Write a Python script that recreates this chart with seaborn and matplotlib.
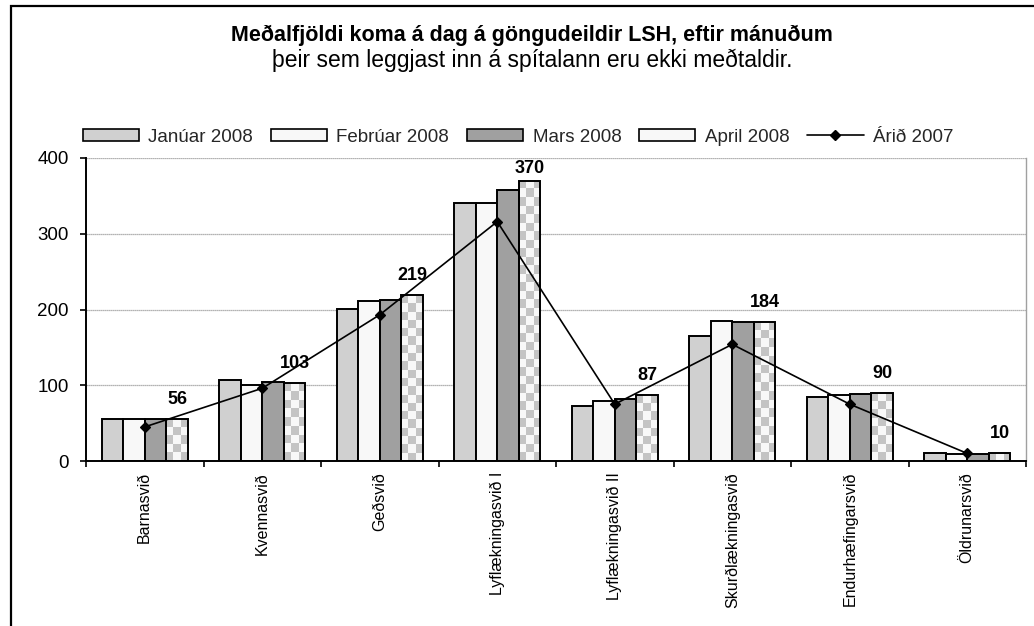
import numpy as np
import pandas as pd
import matplotlib
matplotlib.use("Agg")
import matplotlib.pyplot as plt
from matplotlib.patches import Patch, Rectangle
from matplotlib.lines import Line2D
from matplotlib.colors import ListedColormap
import seaborn as sns

# ---------------- data ----------------
categories = ["Barnasvið", "Kvennasvið", "Geðsvið", "Lyflækningasvið I",
              "Lyflækningasvið II", "Skurðlækningasvið", "Endurhæfingarsvið", "Öldrunarsvið"]
series_names = ["Janúar 2008", "Febrúar 2008", "Mars 2008", "April 2008"]
jan_2008 = [55, 107, 201, 340, 73, 165, 84, 11]
feb_2008 = [55, 100, 211, 341, 79, 185, 87, 9]
mar_2008 = [55, 104, 213, 358, 82, 183, 89, 9]
apr_2008 = [56, 103, 219, 370, 87, 184, 90, 10]
arid_2007 = [45, 96, 193, 316, 75, 154, 75, 10]
line_name = "Árið 2007"
y_ticks = [0, 100, 200, 300, 400]
title = "Meðalfjöldi koma á dag á göngudeildir LSH, eftir mánuðum"
subtitle = "þeir sem leggjast inn á spítalann eru ekki meðtaldir."

colors = ["#d0d0d0", "#f8f8f8", "#a0a0a0", "#f8f8f8"]

sns.set_theme(style="white")
plt.rcParams["font.family"] = ["Liberation Sans", "DejaVu Sans"]

df = pd.DataFrame({
    "svid": categories * 4,
    "month": np.repeat(series_names, len(categories)),
    "value": jan_2008 + feb_2008 + mar_2008 + apr_2008,
})

fig = plt.figure(figsize=(10.34, 6.26), dpi=100)
ax = fig.add_axes([86 / 1034, 1 - 461 / 626, 940 / 1034, 303 / 626])

sns.barplot(data=df, x="svid", y="value", hue="month", hue_order=series_names,
            order=categories, palette=colors, saturation=1, edgecolor="black",
            linewidth=1.4, width=0.735, legend=False, ax=ax)

sns.pointplot(x=categories, y=arid_2007, order=categories, color="black",
              markers="D", markersize=5.5, linewidth=1.2, errorbar=None, ax=ax)

ax.set_xlim(-0.5, len(categories) - 0.5)
ax.set_ylim(0, 400)
fig.canvas.draw()

# checkered pattern for April bars
checker_cmap = ListedColormap(["#c4c4c4", "#f8f8f8"])
apr_container = ax.containers[3]
for patch in apr_container.patches:
    x0 = patch.get_x()
    x1 = x0 + patch.get_width()
    h = patch.get_height()
    p0 = ax.transData.transform((x0, 0))
    p1 = ax.transData.transform((x1, h))
    ny = max(1, int(round(abs(p1[1] - p0[1]) / 8.5)))
    nx = 3
    arr = np.indices((ny, nx)).sum(axis=0) % 2
    im = ax.imshow(arr, extent=[x0, x1, 0, h], cmap=checker_cmap, aspect="auto",
                   interpolation="nearest", origin="upper",
                   zorder=patch.get_zorder() - 0.01)
    im.set_clip_path(patch)
    patch.set_facecolor("none")

ax.set_xlim(-0.5, len(categories) - 0.5)
ax.set_ylim(0, 400)

# data labels above April bars
fig.canvas.draw()
for patch, v in zip(apr_container.patches, apr_2008):
    cx = patch.get_x() + patch.get_width() / 2
    top_px = ax.transData.transform((cx, v))[1]
    lim_px = ax.transData.transform((cx, 400))[1]
    room_pt = (lim_px - top_px) * 72 / fig.dpi
    off = min(14, room_pt * 0.55)
    ax.annotate(str(v), xy=(cx, v), xytext=(0, off), textcoords="offset points",
                ha="center", va="center", fontsize=13, fontweight="bold", color="black")

# axes styling
ax.set_xlabel("")
ax.set_ylabel("")
ax.set_yticks(y_ticks)
ax.set_yticklabels([str(t) for t in y_ticks], fontsize=13.5, color="black")
ax.tick_params(axis="y", length=4.5, width=1.2, direction="out", pad=8, left=True, color="black")
ax.set_xticks(range(len(categories)))
ax.set_xticklabels(categories, rotation=90, fontsize=11.5, color="black", va="top")
ax.tick_params(axis="x", which="major", length=0, pad=8)
ax.set_xticks(np.arange(-0.5, len(categories)), minor=True)
ax.tick_params(axis="x", which="minor", length=4, width=1.2, direction="out", bottom=True, color="black")

ax.yaxis.grid(True, color="#9a9a9a", linewidth=0.9, linestyle=(0, (1, 0.6)))
ax.xaxis.grid(False)
ax.set_axisbelow(True)
for s in ["left", "bottom"]:
    ax.spines[s].set_color("black")
    ax.spines[s].set_linewidth(1.4)
ax.spines["top"].set_visible(False)
ax.spines["right"].set_color("#a0a0a0")
ax.spines["right"].set_linewidth(1.0)
ax.set_facecolor("white")

# titles
fig.text(532 / 1034, 1 - 35 / 626, title, ha="center", va="center",
         fontsize=15.5, fontweight="bold", color="black")
fig.text(532 / 1034, 1 - 60 / 626, subtitle, ha="center", va="center",
         fontsize=16.5, color="black")

# legend
handles = [Patch(facecolor=c, edgecolor="black", linewidth=1.2) for c in colors]
handles.append(Line2D([], [], color="black", marker="D", markersize=5, linewidth=1.2))
labels = series_names + [line_name]
fig.legend(handles, labels, loc="center", bbox_to_anchor=(518 / 1034, 1 - 137 / 626),
           ncol=5, frameon=False, fontsize=13.5, handlelength=3.0, handleheight=0.55,
           handletextpad=0.5, columnspacing=0.95)

# outer frame
fig.patches.append(Rectangle((11 / 1034, -0.1), 1.2, 1 - 6 / 626 + 0.1,
                             transform=fig.transFigure, fill=False,
                             edgecolor="black", linewidth=1.6))

fig.savefig("out.png", dpi=100, facecolor="white")
